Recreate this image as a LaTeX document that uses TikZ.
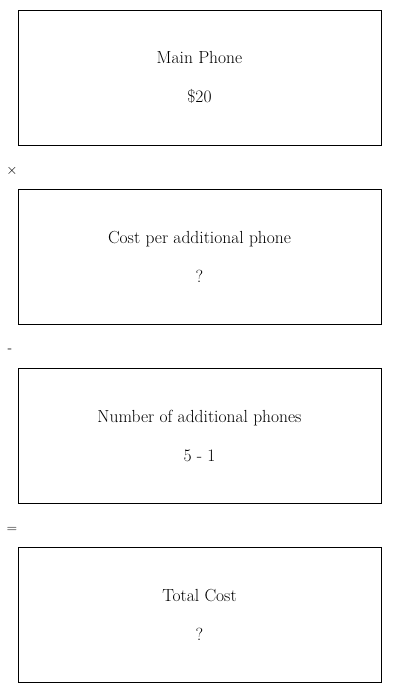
\documentclass[tikz,border=0pt]{standalone}
\usepackage{tikz}
\usetikzlibrary{positioning}
\tikzset{
	stepbox/.style={
			draw, thick, minimum width=363pt, minimum height=135pt,
			align=center, font=\fontsize{17.5}{39}\selectfont
		},
	opsign/.style={font=\fontsize{14}{16}\selectfont, inner sep=0pt}
}

\begin{document}
\begin{tikzpicture}[x=1pt,y=-1pt]
		% Fix the picture size
		\useasboundingbox (0,0) rectangle (400,693);

		% Draw the boxes
		\node[stepbox] (main) at (199.5,77.5) {Main Phone\\\$20};
		\node[stepbox] (cost) at (199.5,256.5) {Cost per additional phone\\?};
		\node[stepbox] (number) at (199.5,435.5) {Number of additional phones\\5 - 1};
		\node[stepbox] (total) at (199.5,614.5) {Total Cost\\?};

		% Operator signs between the boxes
		\node[opsign] (times) at (12,171) {$\times$};
		\node[opsign] (minus) at (10,351) {-};
		\node[opsign] (equals) at (12,529.5) {=};
	\end{tikzpicture}
\end{document}
